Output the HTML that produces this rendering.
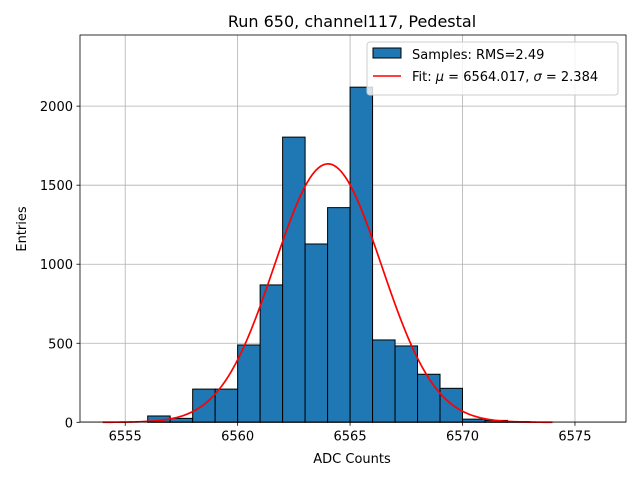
<!DOCTYPE html>
<html><head><meta charset="utf-8"><style>
body{margin:0;background:#fff;}
svg text{font-family:"DejaVu Sans","Liberation Sans",sans-serif;}
</style></head><body>
<svg id="chart" width="640" height="480" viewBox="0 0 640 480" xmlns="http://www.w3.org/2000/svg">
<rect x="0" y="0" width="640" height="480" fill="#fff"/>
<g id="grid"></g>
<g id="bars"></g>
<path id="fit" fill="none" stroke="#ff0000" stroke-width="1.7"/>
<rect x="80" y="35" width="546" height="387" fill="none" stroke="#000" stroke-width="0.8"/>
<g id="ticks"></g>
<text x="352" y="27" font-size="16" text-anchor="middle">Run 650, channel117, Pedestal</text>
<text x="352" y="463" font-size="13" text-anchor="middle">ADC Counts</text>
<text x="26" y="229" font-size="13" text-anchor="middle" transform="rotate(-90 26 229)">Entries</text>
<g>
<rect x="367" y="42" width="251" height="53" rx="3" fill="#fff" fill-opacity="0.8" stroke="#ccc" stroke-width="1"/>
<rect x="373" y="48" width="28" height="10" fill="#1f77b4" stroke="#000" stroke-width="1"/>
<text x="412" y="59" font-size="13">Samples: RMS=2.49</text>
<line x1="373" y1="76" x2="401" y2="76" stroke="#ff0000" stroke-width="1.5"/>
<text x="412" y="81" font-size="13">Fit: <tspan font-style="italic">μ</tspan> = 6564.017, <tspan font-style="italic">σ</tspan> = 2.384</text>
</g>
</svg>
<script>
const binStarts=[6556,6557,6558,6559,6560,6561,6562,6563,6564,6565,6566,6567,6568,6569,6570,6571,6572];
const counts=[40,25,210,210,489,869,1804,1128,1358,2120,521,483,304,215,20,12,4];
const xTicks=[6555,6560,6565,6570,6575];
const yTicks=[0,500,1000,1500,2000];
const fitMu=6564.017, fitSigma=2.384, fitAmp=1635, fitMin=6554, fitMax=6574;
const X0=80,X1=626,Y0=422.3,Y1=35;
const xMin=6552.99, xMax=6577.27, yMax=2450;
const sx=v=>X0+(v-xMin)/(xMax-xMin)*(X1-X0);
const sy=v=>Y0-v/yMax*(Y0-Y1);
const NS="http://www.w3.org/2000/svg";
function mk(tag,attrs,parent){const e=document.createElementNS(NS,tag);for(const k in attrs)e.setAttribute(k,attrs[k]);parent.appendChild(e);return e;}
const grid=document.getElementById('grid'),bars=document.getElementById('bars'),ticks=document.getElementById('ticks');
xTicks.forEach(t=>{
 const g=mk('line',{x1:sx(t),x2:sx(t),y1:Y1,y2:Y0,stroke:'#b0b0b0','stroke-width':0.8},grid);
 
 
 const tk=mk('line',{x1:sx(t),x2:sx(t),y1:Y0,y2:Y0+3.5,stroke:'#000','stroke-width':0.8},ticks);
 
 
 const lb=mk('text',{x:sx(t),y:Y0+18,'font-size':13,'text-anchor':'middle'},ticks);
 lb.textContent=t;
 
 
});
yTicks.forEach(t=>{
 const g=mk('line',{x1:X0,x2:X1,y1:sy(t),y2:sy(t),stroke:'#b0b0b0','stroke-width':0.8},grid);
 
 
 const tk=mk('line',{x1:X0-3.5,x2:X0,y1:sy(t),y2:sy(t),stroke:'#000','stroke-width':0.8},ticks);
 
 
 const lb=mk('text',{x:X0-7,y:sy(t)+5,'font-size':13,'text-anchor':'end'},ticks);
 lb.textContent=t;
 
 
});
binStarts.forEach((b,i)=>{
 const r=mk('rect',{x:sx(b),y:sy(counts[i]),width:sx(b+1)-sx(b),height:Y0-sy(counts[i]),fill:'#1f77b4',stroke:'#000','stroke-width':1},bars);
 
 
});
let d='';
for(let i=0;i<=200;i++){const v=fitMin+(fitMax-fitMin)*i/200;const y=fitAmp*Math.exp(-0.5*((v-fitMu)/fitSigma)**2);d+=(i?'L':'M')+sx(v).toFixed(2)+' '+sy(y).toFixed(2);}
document.getElementById('fit').setAttribute('d',d);
</script>
</body></html>
